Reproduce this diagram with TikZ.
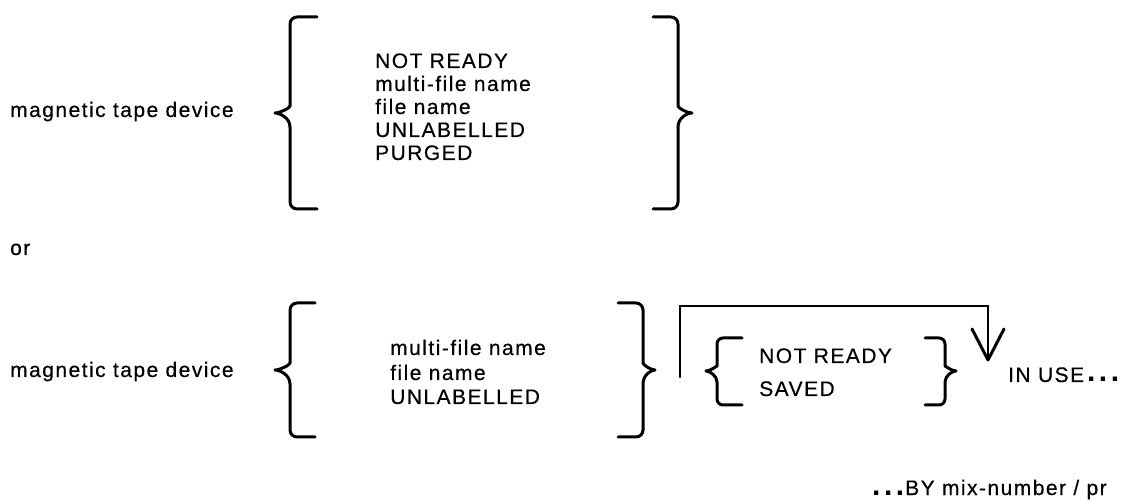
\documentclass[tikz,border=0pt]{standalone}
\usepackage{fontspec}
\setmainfont{Liberation Sans}[LetterSpace=7,FakeBold=0.4]
\newfontfamily\dotfont{Liberation Sans Bold}
\newcommand\bigdots{{\dotfont\fontsize{30}{30}\selectfont.\hspace{3.5pt}.\hspace{3.5pt}.}}
\begin{document}
\begin{tikzpicture}[x=1pt,y=-1pt,
  txt/.style={anchor=base west,inner sep=0pt,font=\fontsize{21}{23}\selectfont},
  brc/.style={line width=3pt,line cap=round,line join=round},
  loopline/.style={line width=2.6pt,line cap=round,line join=miter}]
\useasboundingbox (0,0) rectangle (1133,502);
\fill[white] (0,0) rectangle (1133,502);
% left labels
\node[txt] (dev1) at (10,117) {magnetic tape device};
\node[txt] (or) at (10,255) {or};
\node[txt] (dev2) at (10,377) {magnetic tape device};
% block 1 text
\node[txt] (a1) at (375,68) {NOT READY};
\node[txt] (a2) at (375,91) {multi-file name};
\node[txt] (a3) at (375,114) {file name};
\node[txt] (a4) at (375,137) {UNLABELLED};
\node[txt] (a5) at (375,160) {PURGED};
% block 2 text
\node[txt] (b1) at (390,355) {multi-file name};
\node[txt] (b2) at (390,380) {file name};
\node[txt] (b3) at (390,404) {UNLABELLED};
% small block text
\node[txt] (c1) at (759,363) {NOT READY};
\node[txt] (c2) at (759,396) {SAVED};
% in use
\node[txt] (inuse) at (1008,382) {IN USE\hspace{3pt}\bigdots};
\node[txt] (by) at (872,495) {\bigdots\hspace{1pt}BY mix-number / pr};
% brace 1 left
\draw[brc,rounded corners=7pt] (317,17) -- (290,17) -- (290,99)
  [sharp corners] .. controls (290,108) and (280,113) .. (275,113)
  .. controls (280,113) and (290,118) .. (290,127)
  [rounded corners=7pt] -- (290,209) -- (317,209);
% brace 1 right
\draw[brc,rounded corners=7pt] (653,17) -- (678,17) -- (678,99)
  [sharp corners] .. controls (678,108) and (687,113) .. (692,113)
  .. controls (687,113) and (678,118) .. (678,127)
  [rounded corners=7pt] -- (678,209) -- (653,209);
% brace 2 left
\draw[brc,rounded corners=7pt] (315,303) -- (290,303) -- (290,356)
  [sharp corners] .. controls (290,365) and (280,370) .. (275,370)
  .. controls (280,370) and (290,375) .. (290,384)
  [rounded corners=7pt] -- (290,437) -- (315,437);
% brace 2 right
\draw[brc,rounded corners=7pt] (618,303) -- (643,303) -- (643,356)
  [sharp corners] .. controls (643,365) and (651,370) .. (655,370)
  .. controls (651,370) and (643,375) .. (643,384)
  [rounded corners=7pt] -- (643,437) -- (618,437);
% small brace left
\draw[brc,rounded corners=6pt] (742,338) -- (717,338) -- (717,360)
  [sharp corners] .. controls (717,366) and (710,371) .. (706,371)
  .. controls (710,371) and (717,376) .. (717,382)
  [rounded corners=6pt] -- (717,405) -- (742,405);
% small brace right
\draw[brc,rounded corners=6pt] (925,338) -- (945,338) -- (945,360)
  [sharp corners] .. controls (945,366) and (952,371) .. (956,371)
  .. controls (952,371) and (945,376) .. (945,382)
  [rounded corners=6pt] -- (945,405) -- (925,405);
% loop with arrow
\coordinate (ls) at (680,377);
\coordinate (lt) at (988,360);
\draw[loopline] (ls) |- (988,306) -- (lt);
\draw[brc] (972,329) -- (lt) -- (1004,329);
\end{tikzpicture}
\end{document}
